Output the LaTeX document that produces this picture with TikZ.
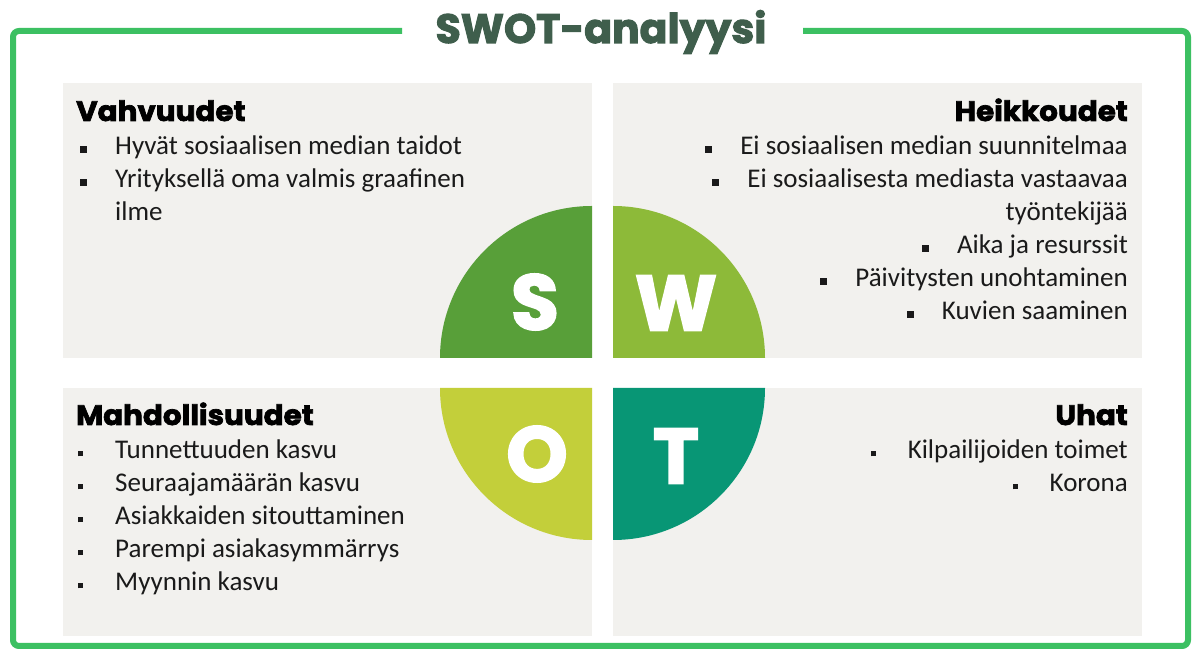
\documentclass[tikz,border=0pt]{standalone}
\usepackage{fontspec}
\setmainfont{Carlito}
\newfontfamily\headfont{Poppins}[FakeBold=2.5]
\newfontfamily\wideheadfont{Poppins}[FakeStretch=1.05,FakeBold=2.5]
\definecolor{framegreen}{HTML}{3CC062}
\definecolor{titlegreen}{HTML}{3F5E4C}
\definecolor{boxgray}{HTML}{F2F1EE}
\definecolor{sgreen}{HTML}{589F39}
\definecolor{wgreen}{HTML}{8DBA39}
\definecolor{ogreen}{HTML}{C3CF3A}
\definecolor{tgreen}{HTML}{089675}
\definecolor{bodyblack}{HTML}{1A1A1A}
% square list bullets
\newcommand\bigsq{\rule[1.5bp]{7bp}{7bp}\hspace{28bp}}
\newcommand\smallsq{\rule[2.5bp]{5bp}{5bp}\hspace{32bp}}
\begin{document}
\begin{tikzpicture}[x=1bp,y=1bp,
  frame/.style={draw=framegreen, line width=6bp, rounded corners=6bp},
  panel/.style={fill=boxgray, draw=none},
  head/.style={inner sep=0, text=black, font=\wideheadfont\bfseries\fontsize{28bp}{30bp}\selectfont},
  body/.style={inner sep=0, text=bodyblack, font=\fontsize{27bp}{33bp}\selectfont},
  letter/.style={inner sep=0, text=white, font=\headfont\bfseries\fontsize{78bp}{78bp}\selectfont},
  title/.style={inner sep=0, text=titlegreen, font=\headfont\bfseries\fontsize{41bp}{42bp}\selectfont}]
\useasboundingbox (0,0) rectangle (1195,650);
\fill[white] (0,0) rectangle (1195,650);

% outer frame, open at the top for the title
\draw[frame] (402,619) -- (13,619) -- (13,4) -- (1188,4) -- (1188,619) -- (803,619);
\node[title, anchor=base] (title) at (601,607) {SWOT-analyysi};

% four panels
\fill[panel] (63,292) rectangle (592,567);
\fill[panel] (613,292) rectangle (1142,567);
\fill[panel] (63,14) rectangle (592,262);
\fill[panel] (613,14) rectangle (1142,262);

% the quartered disc
\fill[sgreen] (592,292) -- (440,292) arc[start angle=180, end angle=90, radius=152] -- cycle;
\fill[wgreen] (613,292) -- (613,444) arc[start angle=90, end angle=0, radius=152] -- cycle;
\fill[ogreen] (592,262) -- (592,110) arc[start angle=270, end angle=180, radius=152] -- cycle;
\fill[tgreen] (613,262) -- (765,262) arc[start angle=0, end angle=-90, radius=152] -- cycle;
\node[letter] (S) at (535,348) {S};
\node[letter] (W) at (676,347) {W};
\node[letter] (O) at (537,196) {O};
\node[letter] (T) at (676,194) {T};

% Vahvuudet
\node[head, anchor=base west] (vh) at (76,529) {Vahvuudet};
\node[body, anchor=base west] (v1) at (80,495) {\bigsq Hyvät sosiaalisen median taidot};
\node[body, anchor=base west] (v2) at (80,462) {\bigsq Yrityksellä oma valmis graafinen};
\node[body, anchor=base west] (v3) at (115,429) {ilme};

% Heikkoudet
\node[head, anchor=base east] (hh) at (1128,529) {Heikkoudet};
\node[body, anchor=base east] (h1) at (1128,495) {\bigsq Ei sosiaalisen median suunnitelmaa};
\node[body, anchor=base east] (h2) at (1128,462) {\bigsq Ei sosiaalisesta mediasta vastaavaa};
\node[body, anchor=base east] (h3) at (1128,429) {työntekijää};
\node[body, anchor=base east] (h4) at (1128,396) {\bigsq Aika ja resurssit};
\node[body, anchor=base east] (h5) at (1128,363) {\bigsq Päivitysten unohtaminen};
\node[body, anchor=base east] (h6) at (1128,330) {\bigsq Kuvien saaminen};

% Mahdollisuudet
\node[head, anchor=base west] (mh) at (76,225) {Mahdollisuudet};
\node[body, anchor=base west] (m1) at (78,191) {\smallsq Tunnettuuden kasvu};
\node[body, anchor=base west] (m2) at (78,158) {\smallsq Seuraajamäärän kasvu};
\node[body, anchor=base west] (m3) at (78,125) {\smallsq Asiakkaiden sitouttaminen};
\node[body, anchor=base west] (m4) at (78,92) {\smallsq Parempi asiakasymmärrys};
\node[body, anchor=base west] (m5) at (78,59) {\smallsq Myynnin kasvu};

% Uhat
\node[head, anchor=base east] (uh) at (1128,225) {Uhat};
\node[body, anchor=base east] (u1) at (1128,191) {\smallsq Kilpailijoiden toimet};
\node[body, anchor=base east] (u2) at (1128,158) {\smallsq Korona};
\end{tikzpicture}
\end{document}
